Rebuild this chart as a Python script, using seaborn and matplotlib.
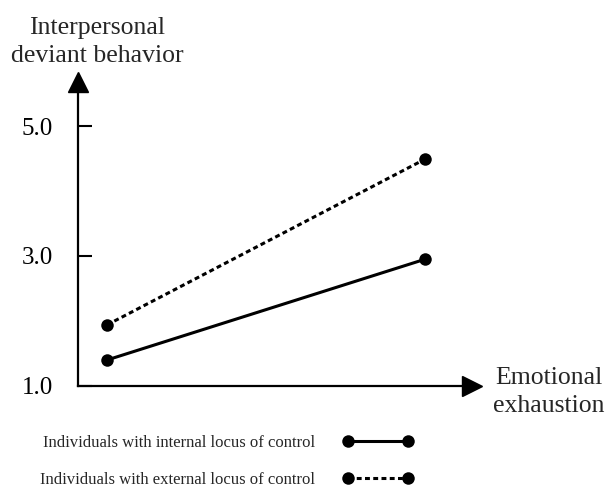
import matplotlib
matplotlib.use("Agg")
import matplotlib.pyplot as plt
import pandas as pd
import seaborn as sns

# values (y = interpersonal deviant behavior)
exhaustion_levels = [0, 1]  # low, high emotional exhaustion
internal_values = [1.40, 2.95]
external_values = [1.94, 4.49]
series_labels = ["Individuals with internal locus of control",
                 "Individuals with external locus of control"]
y_ticks = [1.0, 3.0, 5.0]

df = pd.DataFrame({
    "exhaustion": exhaustion_levels * 2,
    "deviance": internal_values + external_values,
    "locus": [series_labels[0]] * 2 + [series_labels[1]] * 2,
})

sns.set_style("white")
plt.rcParams["font.family"] = ["Liberation Serif", "DejaVu Serif"]

fig = plt.figure(figsize=(6.08, 4.98), dpi=100)
ax = fig.add_axes([78 / 608, 1 - 386 / 498, 394 / 608, 304 / 498])

sns.lineplot(data=df, x="exhaustion", y="deviance", hue="locus", style="locus",
             palette=["black", "black"], markers=["o", "o"],
             dashes={series_labels[0]: "", series_labels[1]: (1.6, 1.1)},
             linewidth=2.2, markersize=9, markeredgewidth=0, ax=ax)

ax.set_xlim(-29 / 318, 1 + 47 / 318)
ax.set_ylim(1.0, 1 + 304 / 65)
ax.set_xticks([])
ax.set_yticks(y_ticks)
ax.set_yticklabels([f"{v:.1f}" for v in y_ticks])
ax.tick_params(axis="y", left=True, direction="in", length=10, width=1.5, pad=18,
               labelsize=18, colors="black")
ax.set_xlabel("")
ax.set_ylabel("")
sns.despine(ax=ax)
for side in ("left", "bottom"):
    ax.spines[side].set_linewidth(1.6)
    ax.spines[side].set_color("black")

# arrow heads at the ends of the axes
ax.plot([1], [0], marker=">", ms=14, color="black", transform=ax.transAxes, clip_on=False)
ax.plot([0], [1], marker="^", ms=14, color="black", transform=ax.transAxes, clip_on=False)

fig.text(97 / 608, 1 - 42 / 498, "Interpersonal\ndeviant behavior", ha="center",
         va="center", fontsize=18.5, linespacing=1.35)
fig.text(549 / 608, 1 - 392 / 498, "Emotional\nexhaustion", ha="center",
         va="center", fontsize=18.5, linespacing=1.35)

old = ax.get_legend()
handles = old.legend_handles
labels = [t.get_text() for t in old.get_texts()]
old.remove()
fig.legend(handles=handles, labels=labels, loc="center left",
           bbox_to_anchor=(40 / 608, 1 - 461.5 / 498), bbox_transform=fig.transFigure,
           markerfirst=False, numpoints=2, frameon=False, fontsize=12,
           handlelength=4.2, handletextpad=1.68, labelspacing=1.25,
           borderpad=0, borderaxespad=0)

fig.savefig("out.png", dpi=100)
